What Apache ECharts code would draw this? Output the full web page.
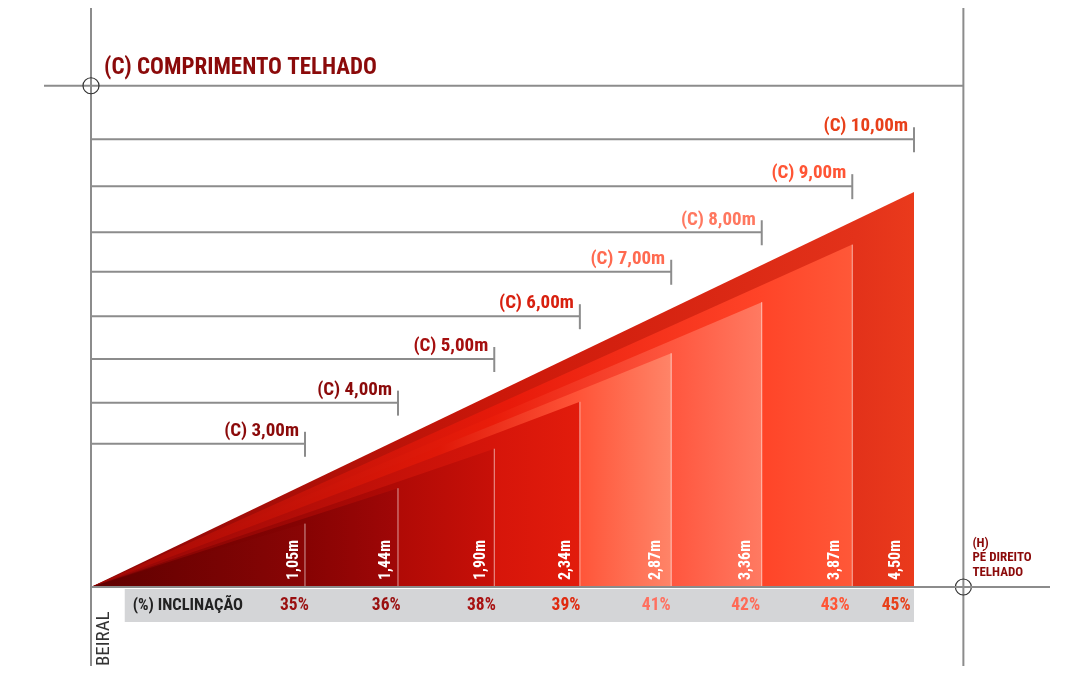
<!DOCTYPE html>
<html><head><meta charset="utf-8">
<script src="https://cdn.jsdelivr.net/npm/echarts/dist/echarts.min.js"></script>
<style>html,body{margin:0;padding:0;background:#fff}#c{width:1080px;height:684px}</style>
</head><body><div id="c"></div>
<script>
// ---- data ----
const lengthLabels = ['(C) 3,00m','(C) 4,00m','(C) 5,00m','(C) 6,00m','(C) 7,00m','(C) 8,00m','(C) 9,00m','(C) 10,00m'];
const heightLabels = ['1,05m','1,44m','1,90m','2,34m','2,87m','3,36m','3,87m','4,50m'];
const slopeLabels  = ['35%','36%','38%','39%','41%','42%','43%','45%'];
// drawn horizontal reach, drawn rise and dimension-line level (drawing units)
const runX  = [2.60, 3.73, 4.90, 5.94, 7.05, 8.15, 9.25, 10.00];
const riseY = [0.77, 1.20, 1.68, 2.25, 2.84, 3.46, 4.16, 4.80];
const dimY  = [1.74, 2.24, 2.77, 3.29, 3.83, 4.31, 4.87, 5.44];

// ---- styles ----
const FONT = "'Roboto Condensed','Liberation Sans Narrow','DejaVu Sans Condensed',Roboto,sans-serif";
const GRAY = '#8c8c8c';
const DARK = '#8b0a0a';
const dimColors = ['#8b0a0a','#8b0a0a','#a50f0f','#d8200f','#ff6a50','#ff7860','#ff5535','#e8401a'];
const pctColors = ['#9a1010','#9a1010','#a81212','#e02a10','#ff7060','#ff6a55','#ff5535','#e8401a'];
const triStops = [
  [[0,'#5e0000'],[1,'#8a0505']],
  [[0,'#640000'],[0.7,'#860303'],[1,'#a00707']],
  [[0,'#7a0303'],[0.76,'#b00a06'],[1,'#c81008']],
  [[0,'#900505'],[0.82,'#d6150a'],[1,'#e21c0c']],
  [[0,'#a00805'],[0.6,'#e01808'],[0.84,'#ff5438'],[1,'#ff8468']],
  [[0,'#a00805'],[0.6,'#ea1c0a'],[0.88,'#ff5a42'],[1,'#ff7a62']],
  [[0,'#a00a05'],[0.55,'#e81a0a'],[0.88,'#ff4428'],[1,'#ff5838']],
  [[0,'#8a0505'],[0.5,'#cc180a'],[0.93,'#e3321a'],[1,'#ea3a1c']]
];
const frameX = 10.6, titleY = 6.09, bandStart = 0.41;

const idx = runX.map((_, i) => i);
function labelCenter(px, ox) { return px - 8 - 0.012 * (px - ox); }

const chart = echarts.init(document.getElementById('c'), null, {renderer: 'canvas'});
chart.setOption({
  animation: false,
  backgroundColor: '#ffffff',
  grid: {left: 91, right: 166, top: 52, bottom: 97},
  xAxis: {type: 'value', min: 0, max: 10, show: false},
  yAxis: {type: 'value', min: 0, max: 6.5, show: false},
  series: [
    { // frame
      type: 'custom', z: 1, silent: true, data: [[0, 0]],
      renderItem(params, api) {
        const o = api.coord([0, 0]), t = api.coord([0, titleY]), r = api.coord([frameX, 0]);
        const ls = {stroke: GRAY, lineWidth: 2};
        return {type: 'group', children: [
          {type: 'line', shape: {x1: o[0], y1: 8, x2: o[0], y2: 666}, style: ls},
          {type: 'line', shape: {x1: r[0], y1: 8, x2: r[0], y2: 666}, style: ls},
          {type: 'line', shape: {x1: 44, y1: t[1], x2: r[0], y2: t[1]}, style: ls},
          {type: 'circle', shape: {cx: o[0], cy: t[1], r: 8}, style: {fill: 'none', stroke: '#333', lineWidth: 1.2}},
          {type: 'circle', shape: {cx: r[0], cy: o[1], r: 8}, style: {fill: 'none', stroke: '#333', lineWidth: 1.2}, z2: 10},
          {type: 'text', x: o[0] + 13, y: t[1] - 17, style: {text: '(C) COMPRIMENTO TELHADO', fill: DARK, font: 'bold 23px ' + FONT, verticalAlign: 'middle'}},
          {type: 'text', x: o[0] + 4, y: o[1] + 79, rotation: Math.PI / 2, style: {text: 'BEIRAL', fill: '#333', font: '19px ' + FONT, align: 'left', verticalAlign: 'top'}},
          {type: 'text', x: r[0] + 9, y: o[1] - 51, style: {text: '(H)\nPÉ DIREITO\nTELHADO', fill: DARK, font: 'bold 13px ' + FONT, lineHeight: 14.5, verticalAlign: 'top'}}
        ]};
      }
    },
    { // dimension lines
      type: 'custom', z: 2, silent: true,
      data: idx.map(i => [runX[i], dimY[i], i]),
      renderItem(params, api) {
        const i = api.value(2);
        const a = api.coord([0, api.value(1)]), b = api.coord([api.value(0), api.value(1)]);
        return {type: 'group', children: [
          {type: 'line', shape: {x1: a[0], y1: a[1], x2: b[0], y2: b[1]}, style: {stroke: GRAY, lineWidth: 2}},
          {type: 'line', shape: {x1: b[0], y1: b[1] - 12, x2: b[0], y2: b[1] + 13}, style: {stroke: GRAY, lineWidth: 2}},
          {type: 'text', x: b[0] - 6, y: b[1] - 3, style: {text: lengthLabels[i], fill: dimColors[i], font: 'bold 19px ' + FONT, align: 'right', verticalAlign: 'bottom'}}
        ]};
      }
    },
    { // roof triangles (largest behind)
      type: 'custom', z: 3, silent: true,
      data: idx.slice().reverse().map(i => [runX[i], riseY[i], i]),
      renderItem(params, api) {
        const i = api.value(2);
        const p0 = api.coord([0, 0]), p1 = api.coord([api.value(0), api.value(1)]), p2 = api.coord([api.value(0), 0]);
        return {type: 'polygon', shape: {points: [p0, p1, p2]},
          style: {fill: new echarts.graphic.LinearGradient(0, 0, 1, 0, triStops[i].map(s => ({offset: s[0], color: s[1]})))}};
      }
    },
    { // separators + height labels
      type: 'custom', z: 4, silent: true,
      data: idx.map(i => [runX[i], riseY[i], i]),
      renderItem(params, api) {
        const i = api.value(2);
        const top = api.coord([api.value(0), api.value(1)]), base = api.coord([api.value(0), 0]);
        const o = api.coord([0, 0]);
        const ch = [];
        if (i < idx.length - 1) ch.push({type: 'line', shape: {x1: base[0], y1: base[1], x2: top[0], y2: top[1]}, style: {stroke: 'rgba(255,255,255,0.6)', lineWidth: 1}});
        ch.push({type: 'text', x: labelCenter(base[0], o[0]), y: base[1] - 7, rotation: Math.PI / 2,
          style: {text: heightLabels[i], fill: '#ffffff', font: 'bold 16px ' + FONT, align: 'left', verticalAlign: 'middle'}});
        return {type: 'group', children: ch};
      }
    },
    { // band + baseline
      type: 'custom', z: 5, silent: true, data: [[0, 0]],
      renderItem(params, api) {
        const o = api.coord([0, 0]), s = api.coord([bandStart, 0]), e = api.coord([runX[runX.length - 1], 0]);
        return {type: 'group', children: [
          {type: 'rect', shape: {x: s[0], y: o[1] + 2, width: e[0] - s[0], height: 33}, style: {fill: '#d4d5d7'}},
          {type: 'line', shape: {x1: o[0], y1: o[1], x2: 1050, y2: o[1]}, style: {stroke: GRAY, lineWidth: 2}},
          {type: 'text', x: s[0] + 8, y: o[1] + 19, style: {text: '(%) INCLINAÇÃO', fill: '#222', font: 'bold 16.5px ' + FONT, verticalAlign: 'middle'}}
        ]};
      }
    },
    { // slope labels
      type: 'custom', z: 6, silent: true,
      data: idx.map(i => [runX[i], 0, i]),
      renderItem(params, api) {
        const i = api.value(2);
        const p = api.coord([api.value(0), 0]), o = api.coord([0, 0]);
        return {type: 'text', x: labelCenter(p[0], o[0]), y: p[1] + 19,
          style: {text: slopeLabels[i], fill: pctColors[i], font: 'bold 17.5px ' + FONT, align: 'center', verticalAlign: 'middle'}};
      }
    }
  ]
});
</script>
</body></html>
